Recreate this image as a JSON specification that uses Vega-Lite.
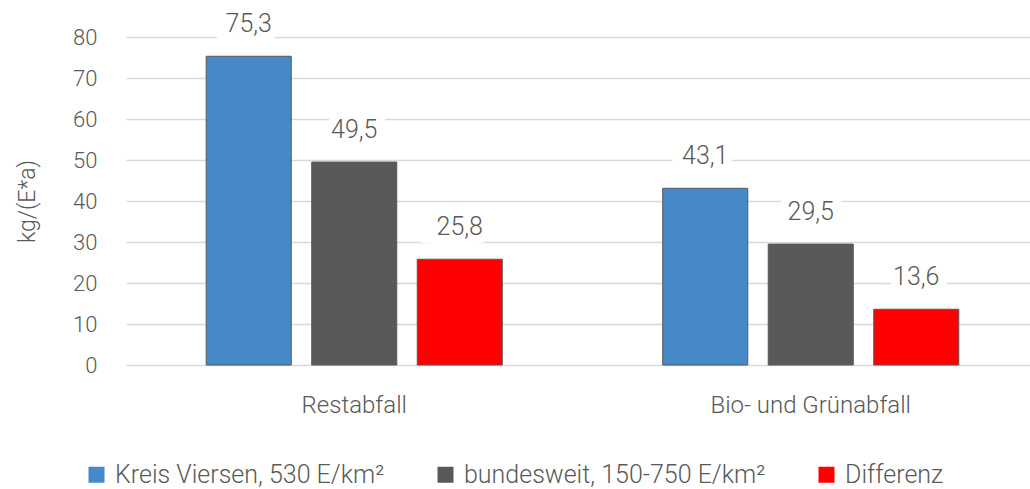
{
  "$schema": "https://vega.github.io/schema/vega-lite/v6.json",
  "width": 913,
  "height": 328,
  "autosize": {"type": "none"},
  "padding": {"left": 126, "top": 37, "right": 0, "bottom": 124},
  "background": "white",
  "config": {
    "font": "Roboto",
    "view": {"stroke": null},
    "locale": {"number": {"decimal": ",", "thousands": ".", "grouping": [3], "currency": ["", " €"]}}
  },
  "data": {
    "values": [
      {"kategorie": "Restabfall", "serie": "Kreis Viersen, 530 E/km²", "wert": 75.3},
      {"kategorie": "Restabfall", "serie": "bundesweit, 150-750 E/km²", "wert": 49.5},
      {"kategorie": "Restabfall", "serie": "Differenz", "wert": 25.8},
      {"kategorie": "Bio- und Grünabfall", "serie": "Kreis Viersen, 530 E/km²", "wert": 43.1},
      {"kategorie": "Bio- und Grünabfall", "serie": "bundesweit, 150-750 E/km²", "wert": 29.5},
      {"kategorie": "Bio- und Grünabfall", "serie": "Differenz", "wert": 13.6}
    ]
  },
  "encoding": {
    "x": {
      "field": "kategorie", "type": "nominal",
      "sort": ["Restabfall", "Bio- und Grünabfall"],
      "scale": {"paddingInner": 0, "paddingOuter": 0},
      "axis": {"title": null, "labelAngle": 0, "domain": false, "ticks": false, "labelPadding": 28, "labelFontSize": 24, "labelColor": "#595959", "labelFontWeight": 300, "labelLimit": 500}
    },
    "xOffset": {
      "field": "serie", "type": "nominal",
      "sort": ["Kreis Viersen, 530 E/km²", "bundesweit, 150-750 E/km²", "Differenz"],
      "scale": {"paddingInner": 0.194, "paddingOuter": 0.76}
    },
    "y": {
      "field": "wert", "type": "quantitative",
      "scale": {"domain": [0, 80], "nice": false},
      "axis": {"title": "kg/(E*a)", "values": [0, 10, 20, 30, 40, 50, 60, 70, 80], "domain": false, "ticks": false, "labelPadding": 29, "labelFontSize": 22, "labelColor": "#595959", "labelFontWeight": 300, "gridColor": "#D9D9D9", "gridWidth": 1.5, "titleFontSize": 23, "titleFontWeight": 300, "titleColor": "#595959", "titlePadding": 33}
    }
  },
  "layer": [
    {
      "mark": {"type": "bar", "stroke": "#595959", "strokeWidth": 1},
      "encoding": {
        "color": {
          "field": "serie", "type": "nominal",
          "sort": ["Kreis Viersen, 530 E/km²", "bundesweit, 150-750 E/km²", "Differenz"],
          "scale": {"domain": ["Kreis Viersen, 530 E/km²", "bundesweit, 150-750 E/km²", "Differenz"], "range": ["#4589C8", "#595959", "#FF0000"]},
          "legend": {"title": null, "orient": "none", "direction": "horizontal", "legendX": -42, "legendY": 425, "padding": 0, "symbolType": "square", "symbolSize": 256, "symbolStrokeWidth": 0, "labelFontSize": 25, "labelFontWeight": 300, "labelColor": "#595959", "labelOffset": 6, "labelLimit": 500, "columnPadding": 48}
        }
      }
    },
    {
      "mark": {"type": "text", "dy": -32, "baseline": "middle", "fontSize": 25, "fontWeight": 300, "stroke": "white", "strokeWidth": 18, "fill": "white"},
      "encoding": {"text": {"field": "wert", "type": "quantitative", "format": ".1f"}}
    },
    {
      "mark": {"type": "text", "dy": -32, "baseline": "middle", "fontSize": 25, "fontWeight": 300, "fill": "#595959"},
      "encoding": {"text": {"field": "wert", "type": "quantitative", "format": ".1f"}}
    }
  ]
}
